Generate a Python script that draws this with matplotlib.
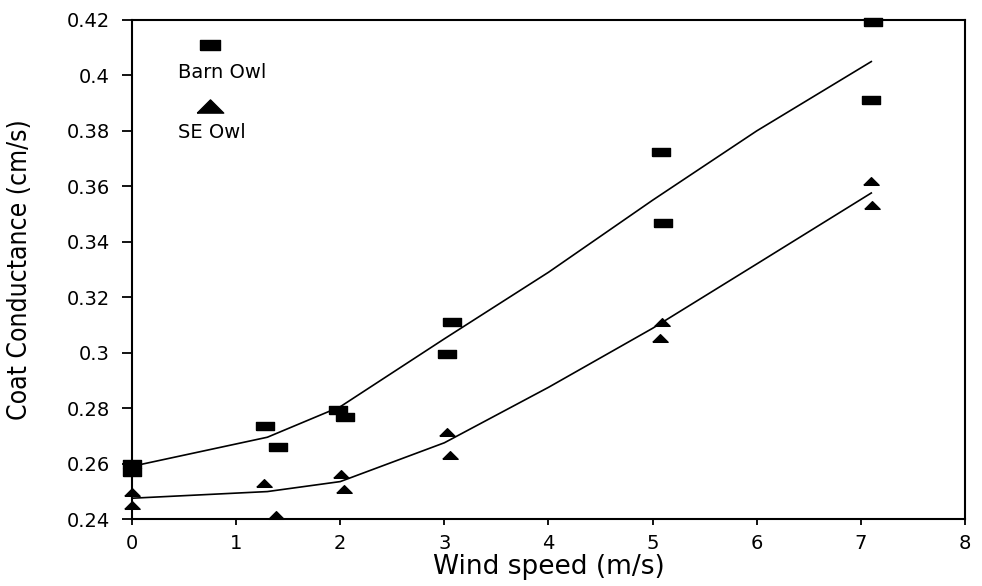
import numpy as np
import matplotlib
matplotlib.use("Agg")
import matplotlib.pyplot as plt
from matplotlib import font_manager

# Measured coat conductance (cm/s) against wind speed (m/s)
barn_x = [0.0, 0.0, 1.28, 1.40, 1.98, 2.05, 3.03, 3.07, 5.08, 5.10, 7.10, 7.12]
barn_y = [0.2599, 0.2570, 0.2734, 0.2659, 0.2794, 0.2769, 0.2995, 0.3111,
          0.3725, 0.3469, 0.3911, 0.4191]

se_x = [0.0, 0.0, 1.27, 1.38, 2.01, 2.04, 3.03, 3.05, 5.09, 5.07, 7.10, 7.11]
se_y = [0.2497, 0.2451, 0.2530, 0.2415, 0.2563, 0.2509, 0.2714, 0.2630,
        0.3109, 0.3054, 0.3618, 0.3533]

# Fitted curves
fit_x = [0.0, 1.3, 2.0, 3.0, 4.0, 5.0, 6.0, 7.1]
barn_fit = [0.259, 0.2695, 0.2805, 0.305, 0.329, 0.355, 0.380, 0.405]
se_fit = [0.2475, 0.2499, 0.2535, 0.2675, 0.2875, 0.3088, 0.332, 0.3576]

x_ticks = [0, 1, 2, 3, 4, 5, 6, 7, 8]
y_ticks = [0.24, 0.26, 0.28, 0.30, 0.32, 0.34, 0.36, 0.38, 0.40, 0.42]
y_tick_labels = ["0.24", "0.26", "0.28", "0.3", "0.32", "0.34", "0.36",
                 "0.38", "0.4", "0.42"]

# Flat rectangle and flat triangle symbols
rect_marker = [(-1, -0.45), (1, -0.45), (1, 0.45), (-1, 0.45), (-1, -0.45)]
tri_marker = [(-1, -0.5), (1, -0.5), (0, 0.5), (-1, -0.5)]
legend_rect = [(-1, -0.52), (1, -0.52), (1, 0.52), (-1, 0.52), (-1, -0.52)]

installed = {f.name for f in font_manager.fontManager.ttflist}
if "Liberation Sans Narrow" in installed:
    ylab_font = dict(family="Liberation Sans Narrow", size=24)
else:
    ylab_font = dict(family="DejaVu Sans", size=19, stretch="condensed")

plt.rcParams["font.family"] = ["DejaVu Sans"]

fig = plt.figure(figsize=(9.82, 5.86), dpi=100)
ax = fig.add_axes([0.1344, 0.1143, 0.8483, 0.8516])

ax.plot(fit_x, barn_fit, color="black", lw=1.2, zorder=2)
ax.plot(fit_x, se_fit, color="black", lw=1.2, zorder=2)

ax.plot(barn_x, barn_y, linestyle="none", marker=rect_marker, ms=13,
        color="black", clip_on=False, zorder=3)
ax.plot(se_x, se_y, linestyle="none", marker=tri_marker, ms=11,
        color="black", clip_on=False, zorder=3)

# Key in the upper-left corner
ax.plot([0.0936], [0.950], transform=ax.transAxes, linestyle="none",
        marker=legend_rect, ms=14, color="black", clip_on=False)
ax.text(0.0552, 0.894, "Barn Owl", transform=ax.transAxes, fontsize=14,
        ha="left", va="center")
ax.plot([0.0936], [0.828], transform=ax.transAxes, linestyle="none",
        marker=tri_marker, ms=19, color="black", clip_on=False)
ax.text(0.0552, 0.774, "SE Owl", transform=ax.transAxes, fontsize=14,
        ha="left", va="center")

ax.set_xlim(0, 8)
ax.set_ylim(0.24, 0.42)
ax.set_xticks(x_ticks)
ax.set_xticklabels([str(t) for t in x_ticks])
ax.set_yticks(y_ticks)
ax.set_yticklabels(y_tick_labels)

for s in ax.spines.values():
    s.set_linewidth(1.5)
ax.tick_params(axis="y", direction="out", length=7, width=1.3, pad=9,
               labelsize=14)
ax.tick_params(axis="x", direction="out", length=4.5, width=1.3, pad=6,
               labelsize=14)

ax.set_xlabel("Wind speed (m/s)", fontsize=19)
ax.xaxis.label.set_va("center")
ax.xaxis.set_label_coords(0.5, -0.096)

ax.set_ylabel("Coat Conductance (cm/s)", **ylab_font)
ax.yaxis.label.set_va("center")
ax.yaxis.set_label_coords(-0.1345, 0.5)

fig.savefig("out.png", dpi=100)
